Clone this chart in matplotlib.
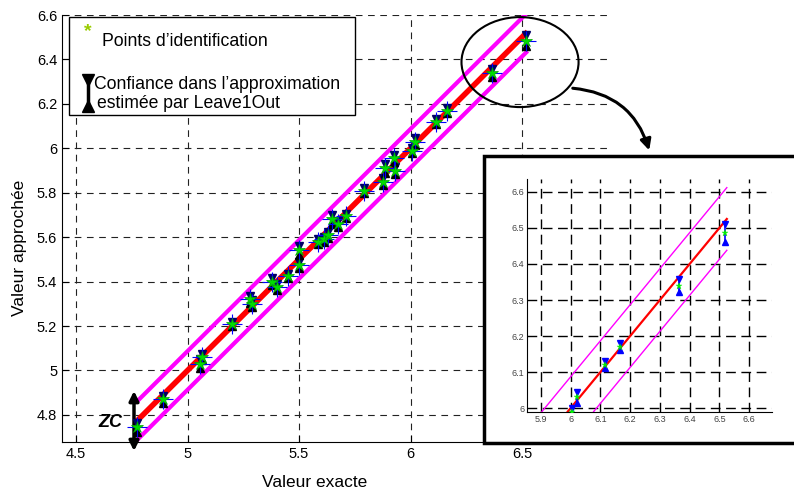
import matplotlib
matplotlib.use("Agg")
import matplotlib.pyplot as plt
from matplotlib.patches import Rectangle, Ellipse, FancyArrowPatch
import numpy as np

plt.rcParams['font.family'] = ['Liberation Sans', 'DejaVu Sans']

# values
x_exact = [4.775, 4.89, 5.055, 5.065, 5.20, 5.28, 5.29, 5.38, 5.40, 5.45,
           5.50, 5.50, 5.585, 5.61, 5.63, 5.65, 5.675, 5.71, 5.79, 5.875,
           5.885, 5.93, 5.925, 6.005, 6.02, 6.115, 6.165, 6.365, 6.52]
y_approx = [4.745, 4.87, 5.03, 5.06, 5.21, 5.32, 5.30, 5.40, 5.375, 5.425,
            5.475, 5.54, 5.58, 5.59, 5.61, 5.68, 5.66, 5.695, 5.81, 5.85,
            5.91, 5.90, 5.955, 5.99, 6.03, 6.12, 6.17, 6.34, 6.485]
err = [0.02, 0.015, 0.02, 0.015, 0.01, 0.015, 0.015, 0.015, 0.015, 0.01,
       0.015, 0.02, 0.01, 0.01, 0.015, 0.02, 0.015, 0.01, 0.01, 0.015,
       0.02, 0.015, 0.015, 0.01, 0.015, 0.01, 0.01, 0.017, 0.025]
line_x = [4.77, 6.525]
band = 0.087
inset_y0 = 5.99
inset_x1 = 6.525

W, H = 794, 490
fig = plt.figure(figsize=(W / 100, H / 100), dpi=100)


def fx(px):
    return px / W


def fy(py):
    return 1 - py / H


# ---- main axes
ax = fig.add_axes([fx(62), fy(442), fx(607) - fx(62), fy(15) - fy(442)])
ax.set_xlim(4.437, 6.881)
ax.set_ylim(4.678, 6.6)
ax.set_xticks([4.5, 5, 5.5, 6, 6.5])
ax.set_xticklabels(['4.5', '5', '5.5', '6', '6.5'])
ax.set_yticks([4.8, 5, 5.2, 5.4, 5.6, 5.8, 6, 6.2, 6.4, 6.6])
ax.set_yticklabels(['4.8', '5', '5.2', '5.4', '5.6', '5.8', '6', '6.2', '6.4', '6.6'])
ax.tick_params(direction='in', labelsize=10.5, length=5, width=0.8)
ax.grid(True, color='#222222', linestyle=(0, (6, 5)), linewidth=0.8)
for s in ['top', 'right']:
    ax.spines[s].set_visible(False)
fig.text(fx(315), fy(482), 'Valeur exacte', fontsize=12.5, ha='center', va='center')
fig.text(fx(20), fy(248), 'Valeur approchée', fontsize=12.5, rotation=90,
         ha='center', va='center')

lx = np.array(line_x)
ax.plot(lx, lx + band, color='#ff00ff', lw=3, solid_capstyle='butt', zorder=3)
ax.plot(lx, lx - band, color='#ff00ff', lw=3, solid_capstyle='butt', zorder=3)
ax.plot(lx, lx, color='#ff0000', lw=4, solid_capstyle='butt', zorder=3)

xe = np.array(x_exact)
ye = np.array(y_approx)
ee = np.array(err)
ax.vlines(xe, ye - ee, ye + ee, color='k', lw=1.2, zorder=4)
ax.plot(xe, ye + ee, 'v', color='#000066', ms=6, zorder=4)
ax.plot(xe, ye - ee, '^', color='k', ms=6, zorder=4)
ax.plot(xe, ye, '+', color='#0000ff', ms=14, mew=0.8, zorder=5)
ax.plot(xe, ye, '*', color='#00dd00', ms=9, mew=0.5, mec='#00aa00', zorder=6)

# zoom ellipse
ax.add_patch(Ellipse((6.491, 6.388), 0.525, 0.405, fill=False, ec='k', lw=1.5,
                     zorder=7, clip_on=False))

# ---- legend box (drawn by hand)
fig.patches.append(Rectangle((fx(69), fy(115)), fx(355) - fx(69), fy(17) - fy(115),
                             transform=fig.transFigure, fc='white', ec='k', lw=1,
                             zorder=10))
fig.text(fx(88), fy(32), '*', color='#99cc00', fontsize=14, fontweight='bold',
         ha='center', va='center', zorder=11)
fig.text(fx(102), fy(41), 'Points d\u2019identification', fontsize=12.7,
         va='center', zorder=11)
fig.lines.append(plt.Line2D([fx(88), fx(88)], [fy(80), fy(106)],
                            transform=fig.transFigure, color='k', lw=2.5, zorder=11))
fig.lines.append(plt.Line2D([fx(88)], [fy(80)], marker='v', ms=9, color='k',
                            transform=fig.transFigure, zorder=11))
fig.lines.append(plt.Line2D([fx(88)], [fy(106)], marker='^', ms=9, color='k',
                            transform=fig.transFigure, zorder=11))
fig.text(fx(94), fy(84), 'Confiance dans l\u2019approximation', fontsize=12.7,
         va='center', zorder=11)
fig.text(fx(97), fy(104), 'estimée par Leave1Out', fontsize=12.7,
         va='center', zorder=11)

# ---- ZC double arrow
ax.annotate('', xy=(fx(134), fy(451)), xytext=(fx(134), fy(391)),
            xycoords='figure fraction', textcoords='figure fraction',
            arrowprops=dict(arrowstyle='<|-|>', color='k', lw=2.5,
                            mutation_scale=14, shrinkA=0, shrinkB=0))
fig.text(fx(110), fy(422), 'ZC', fontsize=13, fontweight='bold', style='italic',
         ha='center', va='center')

# ---- curved arrow to inset
fig.patches.append(FancyArrowPatch((fx(570), fy(88)), (fx(650), fy(153)),
                                   transform=fig.transFigure,
                                   connectionstyle='arc3,rad=-0.35',
                                   arrowstyle='-|>', mutation_scale=16,
                                   color='k', lw=2.2, zorder=12))

# ---- inset frame and axes
fig.patches.append(Rectangle((fx(484), fy(443)), fx(820) - fx(484), fy(156) - fy(443),
                             transform=fig.transFigure, fc='white', ec='k', lw=2.5,
                             zorder=13))
ins = fig.add_axes([fx(527), fy(412), fx(772) - fx(527), fy(179) - fy(412)])
ins.set_zorder(14)
ins.set_facecolor('white')
ins.set_xlim(5.853, 6.677)
ins.set_ylim(5.989, 6.636)
ins.set_xticks([5.9, 6, 6.1, 6.2, 6.3, 6.4, 6.5, 6.6])
ins.set_xticklabels(['5.9', '6', '6.1', '6.2', '6.3', '6.4', '6.5', '6.6'])
ins.set_yticks([6, 6.1, 6.2, 6.3, 6.4, 6.5, 6.6])
ins.set_yticklabels(['6', '6.1', '6.2', '6.3', '6.4', '6.5', '6.6'])
ins.tick_params(direction='in', labelsize=6.5, labelcolor='#444444', length=3,
                width=0.6, pad=2)
ins.grid(True, color='k', linestyle=(0, (7, 4)), linewidth=1.0)
for s in ['top', 'right']:
    ins.spines[s].set_visible(False)

up = np.array([inset_y0 - band, inset_x1])
lo = np.array([inset_y0 + band, inset_x1])
rd = np.array([inset_y0, inset_x1])
ins.plot(up, up + band, color='#ff00ff', lw=1)
ins.plot(lo, lo - band, color='#ff00ff', lw=1)
ins.plot(rd, rd, color='#ff0000', lw=1.6)
m = xe >= 6
ins.vlines(xe[m], ye[m] - ee[m], ye[m] + ee[m], color='#0000ff', lw=1.2, zorder=4)
ins.plot(xe[m], ye[m] + ee[m], 'v', color='#0000ff', ms=4, zorder=4)
ins.plot(xe[m], ye[m] - ee[m], '^', color='#0000ff', ms=4, zorder=4)
ins.plot(xe[m], ye[m], '*', color='#00ee00', ms=5, mew=0.3, zorder=5)

fig.savefig('out.png', dpi=100)
